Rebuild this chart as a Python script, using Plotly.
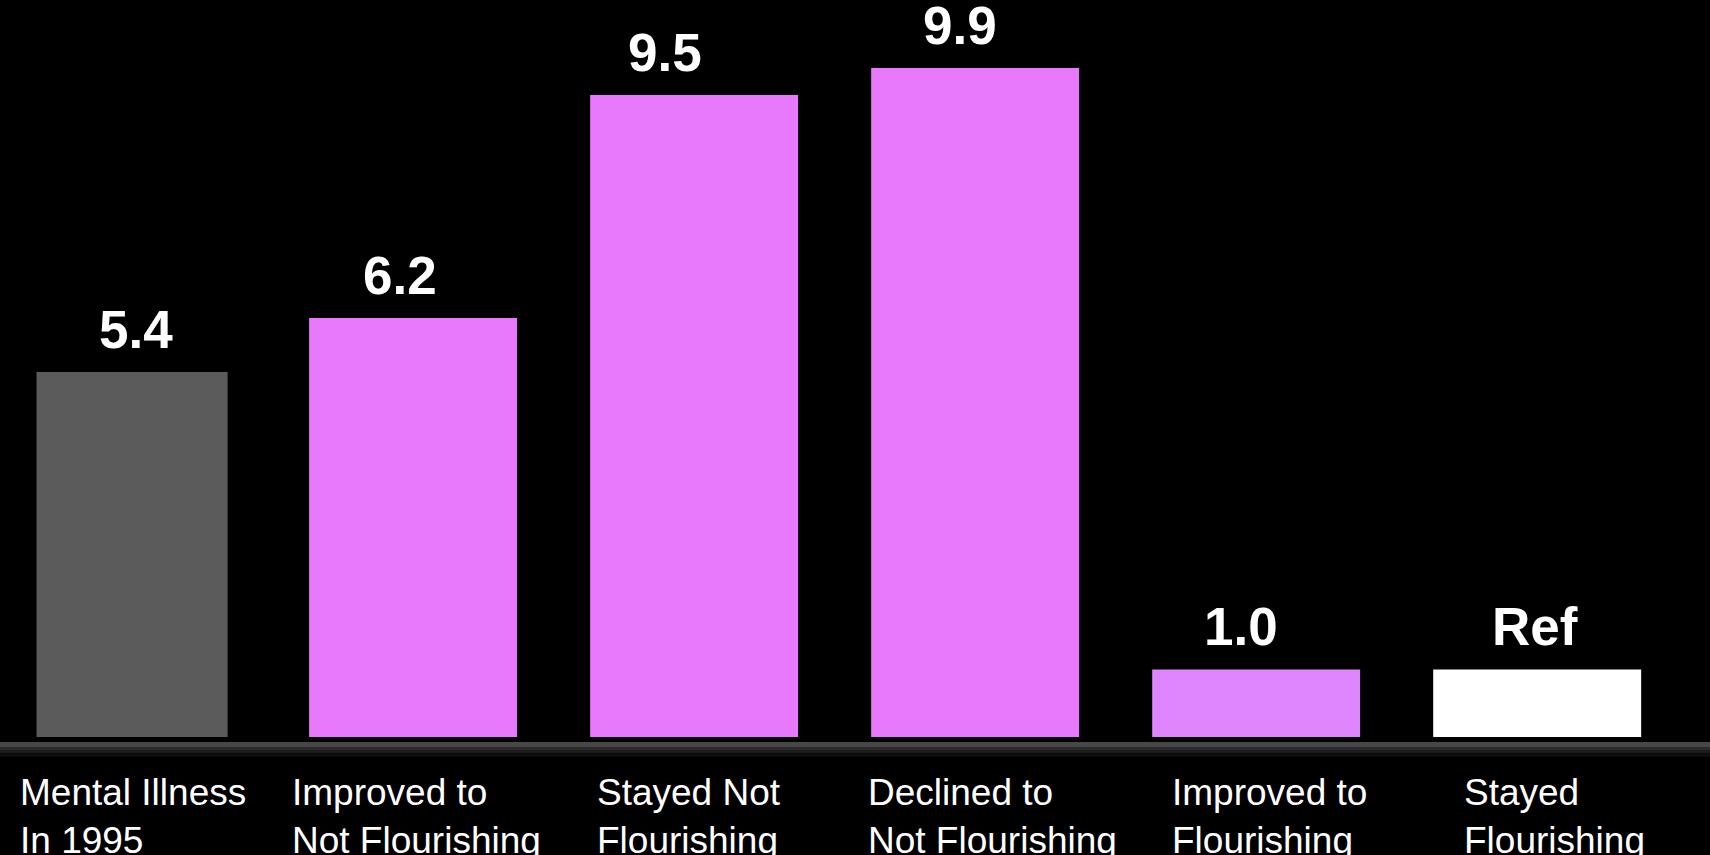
import plotly.graph_objects as go

# Odds of mental illness in 2005 by flourishing trajectory
categories = [
    "Mental Illness<br>In 1995",
    "Improved to<br>Not Flourishing",
    "Stayed Not<br>Flourishing",
    "Declined to<br>Not Flourishing",
    "Improved to<br>Flourishing",
    "Stayed<br>Flourishing",
]
odds_ratios = [5.4, 6.2, 9.5, 9.9, 1.0, 1.0]
value_labels = ["5.4", "6.2", "9.5", "9.9", "1.0", "Ref"]

# styling
bar_colors = ["#5b5b5b", "#e879fc", "#e879fc", "#e879fc", "#df86fe", "#ffffff"]
bar_widths = [0.68, 0.74, 0.74, 0.74, 0.74, 0.74]
value_xshift = [4, -13, -29, -15, -15, -2]
cat_xshift = [-114, -123, -99, -109, -86, -75]
FONT = "Liberation Sans, Arial, Helvetica, sans-serif"

fig = go.Figure(
    go.Bar(
        x=categories,
        y=odds_ratios,
        width=bar_widths,
        marker=dict(color=bar_colors, line=dict(width=0)),
        hoverinfo="skip",
    )
)

annotations = []
for cat, val, lab, dx in zip(categories, odds_ratios, value_labels, value_xshift):
    annotations.append(dict(
        x=cat, y=val, xref="x", yref="y", text=f"<b>{lab}</b>",
        showarrow=False, xanchor="center", yanchor="bottom",
        xshift=dx, yshift=11,
        font=dict(family=FONT, size=53, color="#ffffff"),
    ))
for cat, dx in zip(categories, cat_xshift):
    annotations.append(dict(
        x=cat, y=0, xref="x", yref="paper", text=cat,
        showarrow=False, xanchor="left", yanchor="top", align="left",
        xshift=dx, yshift=-28,
        font=dict(family=FONT, size=37, color="#ffffff"),
    ))

# soft shadow under the baseline
px = 1 / 742
shadow = [(5, 8, "#2c2c2c"), (8, 11, "#1b1b1b"), (11, 15, "#0d0d0d")]
shapes = [
    dict(type="rect", xref="paper", yref="paper", x0=0, x1=1,
         y0=-a * px, y1=-b * px, fillcolor=c, line=dict(width=0), layer="below")
    for a, b, c in shadow
]

fig.update_layout(
    width=1710, height=855,
    margin=dict(l=0, r=0, t=0, b=113),
    paper_bgcolor="#000000", plot_bgcolor="#000000",
    showlegend=False,
    annotations=annotations,
    shapes=shapes,
    xaxis=dict(
        type="category", range=[-0.47, 5.615],
        showticklabels=False, showgrid=False, zeroline=False, ticks="",
        showline=True, linecolor="#474747", linewidth=5,
    ),
    yaxis=dict(
        range=[-0.074, 10.906], visible=False,
        showgrid=False, zeroline=False,
    ),
)

fig.write_html("out.html")
